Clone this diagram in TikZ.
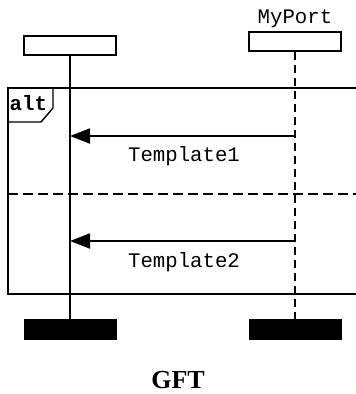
\documentclass[tikz,border=0pt]{standalone}
\usepackage{fontspec}
\setmainfont{Liberation Serif}
\setmonofont{Liberation Mono}
\usetikzlibrary{arrows.meta}
\tikzset{
  inst/.style={draw, line width=1.6pt, minimum width=92pt, minimum height=19pt, inner sep=0pt},
  endbox/.style={fill=black, draw=black, line width=1pt, minimum width=92pt, minimum height=20pt, inner sep=0pt},
  life/.style={line width=1.8pt},
  dlife/.style={line width=1.6pt, dash pattern=on 8pt off 5pt},
  frameline/.style={line width=1.8pt},
  msg/.style={line width=1.8pt, -{Triangle[length=20pt,width=15pt]}},
  lbl/.style={font=\fontsize{20.7}{24}\selectfont\ttfamily, inner sep=0pt},
}
\begin{document}
\begin{tikzpicture}[x=1pt,y=-1pt]
\useasboundingbox (0,0) rectangle (356,394);
% instances
\node[inst] (lhead) at (70,45.5) {};
\node[inst] (rhead) at (295,41.5) {};
\node[lbl, anchor=base] (myport) at (295,23) {MyPort};
\node[endbox] (lend) at (70,329) {};
\node[endbox] (rend) at (295,329) {};
\draw[life] (lhead.south) -- (lend.north);
\draw[dlife] (rhead.south) -- (rend.north);
% alt frame
\coordinate (ftr) at (357,88);
\coordinate (ftl) at (8,88);
\coordinate (fbl) at (8,294);
\coordinate (fbr) at (357,294);
\draw[frameline] (ftr) -- (ftl) -- (fbl) -- (fbr);
\coordinate (tab1) at (53,88);
\coordinate (tab2) at (53,108);
\coordinate (tab3) at (41,122);
\coordinate (tab4) at (8,122);
\draw[line width=1.4pt] (tab1) -- (tab2) -- (tab3) -- (tab4);
\node[lbl, font=\fontsize{20.7}{24}\selectfont\ttfamily\bfseries, anchor=base west] (altlbl) at (9.5,110) {alt};
% separator
\coordinate (sepl) at (8,194);
\coordinate (sepr) at (357,194);
\draw[line width=1.6pt, dash pattern=on 10pt off 5pt] (sepl) -- (sepr);
% messages
\coordinate (r1) at (295,136);
\coordinate (l1) at (70,136);
\coordinate (r2) at (295,241);
\coordinate (l2) at (70,241);
\draw[msg] (r1) -- (l1);
\draw[msg] (r2) -- (l2);
\node[lbl, anchor=base] (t1) at (184,161) {Template1};
\node[lbl, anchor=base] (t2) at (184,267) {Template2};
% caption
\node[font=\fontsize{26}{30}\selectfont\bfseries, inner sep=0pt, anchor=base] (gft) at (178,388) {GFT};
\end{tikzpicture}
\end{document}
